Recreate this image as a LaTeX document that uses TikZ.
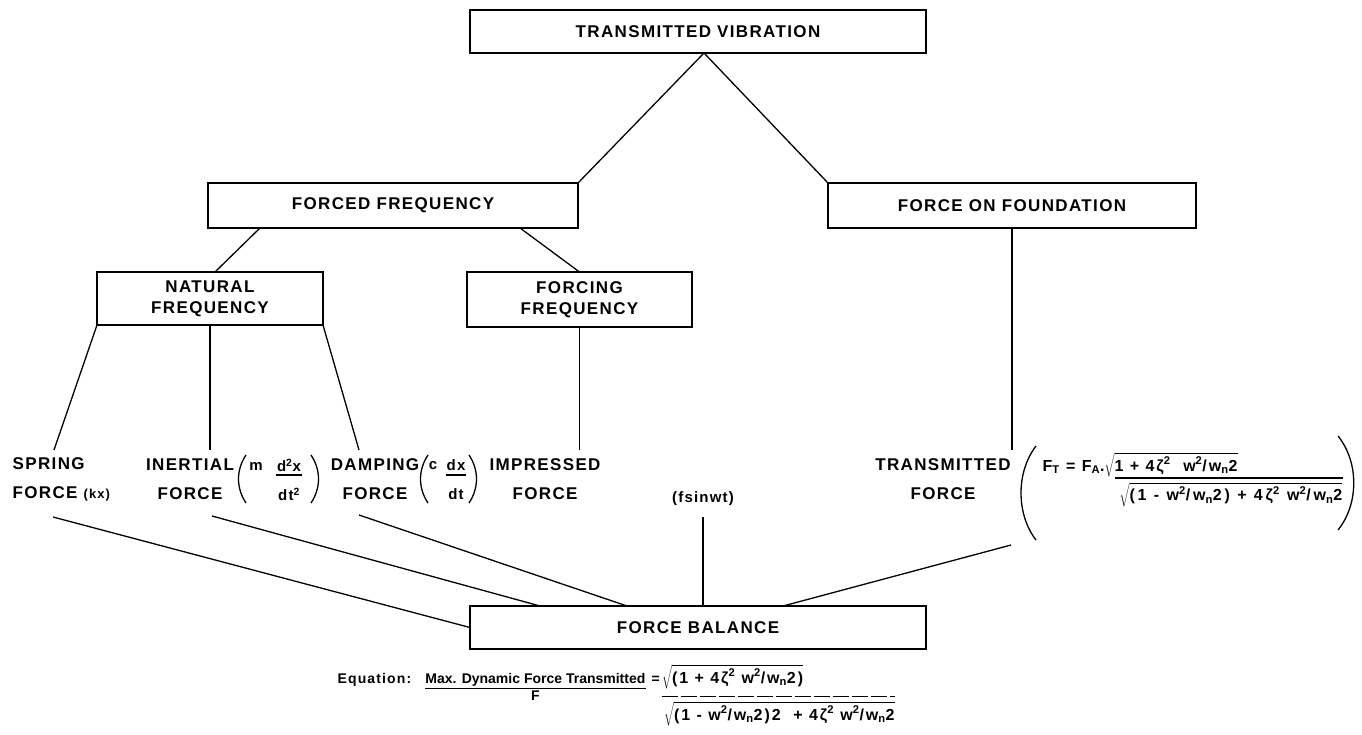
\documentclass[tikz,border=0pt]{standalone}
\usepackage{fontspec}
\setmainfont{Liberation Sans}
\newfontfamily\lab[LetterSpace=8]{Liberation Sans}
\newfontfamily\wide[LetterSpace=12]{Liberation Sans}
\newfontfamily\wider[LetterSpace=18]{Liberation Sans}
\newfontfamily\plain{Liberation Sans}
\usetikzlibrary{calc}
\newcommand\supx[1]{\textsuperscript{#1}}
\newcommand\subx[1]{\textsubscript{#1}}
\begin{document}
\begin{tikzpicture}[x=1pt,y=-1pt,line width=1.3pt,
  box/.style={draw,line width=1.5pt,inner sep=0pt,outer sep=0pt,align=center,
    font=\lab\bfseries\fontsize{17}{21}\selectfont},
  lbl/.style={inner sep=0pt,align=center,font=\lab\bfseries\fontsize{17}{29}\selectfont},
  frm/.style={inner sep=0pt,font=\lab\bfseries\fontsize{15}{29}\selectfont},
  wfrm/.style={inner sep=0pt,font=\wide\bfseries\fontsize{16}{20}\selectfont},
  dfrm/.style={inner sep=0pt,font=\wider\bfseries\fontsize{16}{20}\selectfont},
  efrm/.style={inner sep=0pt,font=\lab\bfseries\fontsize{14}{18}\selectfont},
  pfrm/.style={inner sep=0pt,font=\plain\bfseries\fontsize{14}{18}\selectfont},
  bar/.style={line width=1.1pt}]
\useasboundingbox (0,0) rectangle (1362,734);

% boxes
\node[box,minimum width=456pt,minimum height=43pt] (tv) at (698,31.5) {TRANSMITTED VIBRATION};
\node[box,minimum width=370pt,minimum height=45pt] (ff) at (393,205.5) {FORCED FREQUENCY};
\node[box,minimum width=368pt,minimum height=45pt] (fof) at (1012,205.5) {FORCE ON FOUNDATION};
\node[box,minimum width=226pt,minimum height=53pt] (nat) at (210,298.5) {NATURAL\\FREQUENCY};
\node[box,minimum width=225pt,minimum height=55pt] (forc) at (579.5,299.5) {FORCING\\FREQUENCY};
\node[box,minimum width=456pt,minimum height=43pt] (fb) at (698,627.5) {FORCE BALANCE};

% force labels
\node[lbl,align=left,anchor=west] (spring) at (12,479.5) {SPRING\\FORCE {\fontsize{13}{13}\selectfont(kx)}};
\node[lbl] (inert) at (190,479.5) {INERTIAL\\FORCE};
\node[lbl] (damp) at (375,479.5) {DAMPING\\FORCE};
\node[lbl] (impr) at (545,479.5) {IMPRESSED\\FORCE};
\node[lbl] (trans) at (943,479.5) {TRANSMITTED\\FORCE};
\node[frm] (fsin) at (703,499) {(fsinwt)};

% inertial term  (m d2x/dt2)
\node[frm] (mm) at (256,466) {m};
\node[frm,align=center] (d2x) at (289,480) {d\supx{2}x\\dt\supx{2}};
\draw[bar] ([yshift=5pt]d2x.west) -- ([yshift=5pt]d2x.east);
\draw (246,455) .. controls (236,470) and (236,488) .. (246,503);
\draw (311,455) .. controls (321,470) and (321,488) .. (311,503);

% damping term  (c dx/dt)
\node[frm] (cc) at (433,466) {c};
\node[frm,align=center] (dxdt) at (456,480) {dx\\dt};
\draw[bar] ([yshift=5pt]dxdt.west) -- ([yshift=5pt]dxdt.east);
\draw (428,455) .. controls (418,470) and (418,488) .. (428,503);
\draw (469,455) .. controls (479,470) and (479,488) .. (469,503);

% transmitted force expression
\node[wfrm,anchor=base west] (ftn) at (1042,471)
  {F\subx{T} = F\subx{A}.$\sqrt{\hbox{1 + 4ζ\supx{2}\ \ w\supx{2}/w\subx{n}2}}$};
\node[dfrm,anchor=north east] (ftd) at (1343,482)
  {$\sqrt{\hbox{(1 - w\supx{2}/w\subx{n}2) + 4ζ\supx{2} w\supx{2}/w\subx{n}2}}$};
\draw[bar] ([xshift=-4pt,yshift=4pt]ftd.north west) -- ([yshift=4pt]ftd.north east);
\draw (1036,446) .. controls (1016,472) and (1016,514) .. (1036,540);
\draw (1338,436) .. controls (1359,462) and (1359,504) .. (1338,530);

% connectors between levels
\coordinate (apex) at ([xshift=6pt]tv.south);
\coordinate (t1) at (54,450);
\coordinate (t2) at (210,450);
\coordinate (t3) at (359,450);
\coordinate (t4) at (579.5,450);
\coordinate (t5) at (1012,450);
\coordinate (b1) at (53,517);
\coordinate (b2) at (212,516);
\coordinate (b3) at (359,515);
\coordinate (b4) at (703,517);
\coordinate (b5) at (1011,545);

\draw (apex) -- (ff.north east);
\draw (apex) -- (fof.north west);
\draw ([xshift=52pt]ff.south west) -- ([xshift=5pt]nat.north);
\draw ([xshift=-58pt]ff.south east) -- (forc.north);
\draw (nat.south west) -- (t1);
\draw (nat.south) -- (t2);
\draw (nat.south east) -- (t3);
\draw (forc.south) -- (t4);
\draw (fof.south) -- (t5);
\draw (b1) -- (fb.west);
\draw (b2) -- ([xshift=70pt]fb.north west);
\draw (b3) -- ([xshift=157pt]fb.north west);
\draw (b4) -- (b4 |- fb.north);
\draw (b5) -- ([xshift=313pt]fb.north west);

% governing equation
\node[efrm,anchor=base west] (eql) at (337,683) {Equation:};
\node[pfrm,anchor=base west] (eqm) at ([xshift=13pt]eql.base east) {Max. Dynamic Force Transmitted};
\draw[bar] ([yshift=-2pt]eqm.south west) -- ([yshift=-2pt]eqm.south east);
\node[efrm,anchor=base] (eqf) at ([yshift=-17pt]eqm.base) {F};
\node[efrm,anchor=base west] (eqeq) at ([xshift=5pt]eqm.base east) {=};
\node[wfrm,anchor=base west] (eqn) at ([xshift=1pt]eqeq.base east)
  {$\sqrt{\hbox{(1 + 4ζ\supx{2} w\supx{2}/w\subx{n}2)}}$};
\node[wfrm,anchor=base west] (eqd) at ([xshift=2pt,yshift=-37pt]eqn.base west)
  {$\sqrt{\hbox{(1 - w\supx{2}/w\subx{n}2)2 \ + 4ζ\supx{2} w\supx{2}/w\subx{n}2}}$};
\draw[bar,dash pattern=on 16pt off 3pt] ([xshift=-2pt,yshift=5pt]eqd.north west) -- ([yshift=5pt]eqd.north east);
\end{tikzpicture}
\end{document}
